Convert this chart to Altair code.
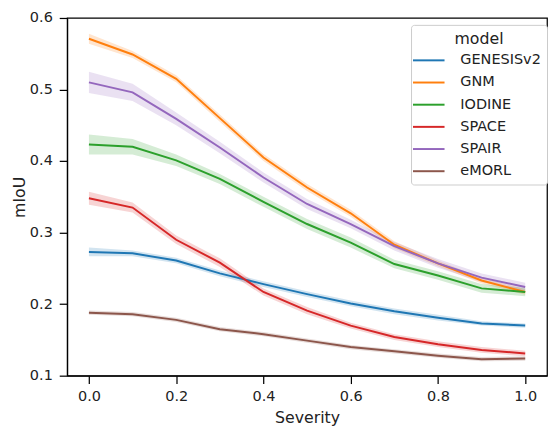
import altair as alt
import pandas as pd

severity = [0.0, 0.1, 0.2, 0.3, 0.4, 0.5, 0.6, 0.7, 0.8, 0.9, 1.0]
models = ["GENESISv2", "GNM", "IODINE", "SPACE", "SPAIR", "eMORL"]
colors = ["#1f77b4", "#ff7f0e", "#2ca02c", "#d62728", "#9467bd", "#8c564b"]

genesis = [0.273, 0.271, 0.261, 0.243, 0.228, 0.214, 0.201, 0.190, 0.181, 0.173, 0.170]
gnm = [0.571, 0.549, 0.515, 0.460, 0.405, 0.363, 0.327, 0.283, 0.257, 0.233, 0.217]
iodine = [0.423, 0.420, 0.401, 0.375, 0.343, 0.312, 0.286, 0.256, 0.240, 0.222, 0.217]
space = [0.348, 0.335, 0.290, 0.258, 0.217, 0.191, 0.170, 0.154, 0.144, 0.136, 0.131]
spair = [0.510, 0.496, 0.459, 0.419, 0.377, 0.340, 0.312, 0.281, 0.257, 0.237, 0.224]
emorl = [0.188, 0.186, 0.178, 0.165, 0.158, 0.149, 0.140, 0.134, 0.128, 0.123, 0.124]

ci_genesis = [0.006, 0.004, 0.004, 0.004, 0.004, 0.004, 0.004, 0.004, 0.004, 0.003, 0.003]
ci_gnm = [0.007, 0.005, 0.005, 0.005, 0.005, 0.005, 0.005, 0.005, 0.004, 0.004, 0.004]
ci_iodine = [0.014, 0.011, 0.008, 0.007, 0.007, 0.007, 0.007, 0.006, 0.006, 0.006, 0.006]
ci_space = [0.009, 0.007, 0.006, 0.006, 0.005, 0.005, 0.004, 0.004, 0.004, 0.004, 0.004]
ci_spair = [0.015, 0.012, 0.009, 0.008, 0.007, 0.007, 0.006, 0.006, 0.006, 0.006, 0.006]
ci_emorl = [0.003, 0.003, 0.003, 0.003, 0.003, 0.003, 0.003, 0.003, 0.003, 0.003, 0.003]

series = [genesis, gnm, iodine, space, spair, emorl]
cis = [ci_genesis, ci_gnm, ci_iodine, ci_space, ci_spair, ci_emorl]

rows = []
for m, vals, ci in zip(models, series, cis):
    for s, v, c in zip(severity, vals, ci):
        rows.append({"Severity": s, "mIoU": v, "lo": v - c, "hi": v + c, "model": m})
df = pd.DataFrame(rows)

FONT = "DejaVu Sans"
TICK_FS = 14.67
TITLE_FS = 16
xscale = alt.Scale(domain=[-0.05, 1.05], nice=False, zero=False)
yscale = alt.Scale(domain=[0.1, 0.6], nice=False, zero=False)
cscale = alt.Scale(domain=models, range=colors)

xaxis = alt.Axis(values=[0, 0.2, 0.4, 0.6, 0.8, 1.0], format=".1f", title="Severity")
yaxis = alt.Axis(values=[0.1, 0.2, 0.3, 0.4, 0.5, 0.6], format=".1f", title="mIoU")

legend = alt.Legend(
    title="model",
    orient="none",
    legendX=349,
    legendY=7,
    symbolType="M-2,0H2",
    symbolSize=256,
    symbolStrokeWidth=2,
    symbolOpacity=1,
    symbolOffset=3,
    labelOffset=23,
    rowPadding=6.5,
    padding=6,
    titleAnchor="middle",
    titleFontWeight="normal",
    titleFontSize=TITLE_FS,
    labelFontSize=TICK_FS,
    titleFont=FONT,
    labelFont=FONT,
    titleColor="#222222",
    labelColor="#222222",
    fillColor="white",
    strokeColor="#cccccc",
    cornerRadius=3,
    titlePadding=5,
)

base = alt.Chart(df)

band = base.mark_area(opacity=0.2).encode(
    x=alt.X("Severity:Q", scale=xscale, axis=xaxis),
    y=alt.Y("lo:Q", scale=yscale, axis=yaxis),
    y2="hi:Q",
    color=alt.Color("model:N", scale=cscale, legend=legend),
)

line = base.mark_line(strokeWidth=2).encode(
    x=alt.X("Severity:Q", scale=xscale),
    y=alt.Y("mIoU:Q", scale=yscale),
    color=alt.Color("model:N", scale=cscale, legend=legend),
)

chart = (
    alt.layer(band, line)
    .properties(
        width=487,
        height=363,
        autosize=alt.AutoSizeParams(type="none"),
        padding={"left": 60, "top": 7, "right": 1, "bottom": 52},
    )
    .configure_view(stroke="black", strokeWidth=1.25)
    .configure_axis(
        grid=False,
        labelFont=FONT,
        titleFont=FONT,
        labelFontSize=TICK_FS,
        titleFontSize=TITLE_FS,
        titleFontWeight="normal",
        labelColor="#222222",
        titleColor="#222222",
        domainColor="black",
        domainWidth=1.25,
        tickColor="black",
        tickWidth=1.25,
        tickSize=8,
    )
    .configure_axisX(labelPadding=5, titlePadding=7)
    .configure_axisY(labelPadding=7, titlePadding=2)
)

chart.save("out.html", embed_options={"renderer": "svg", "actions": False})
